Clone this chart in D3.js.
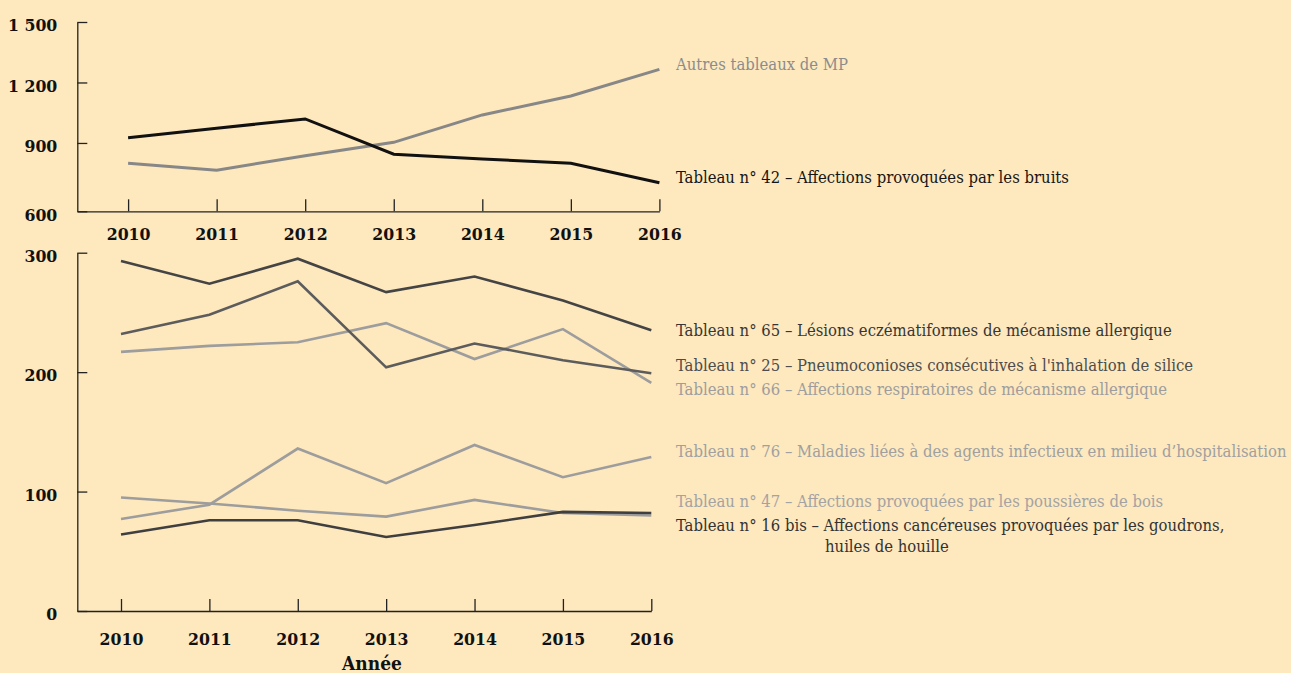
<!DOCTYPE html>
<html>
<head>
<meta charset="utf-8">
<script src="https://cdn.jsdelivr.net/npm/d3@7"></script>
<style>
  html, body { margin: 0; padding: 0; background: #fee8be; }
  svg { display: block; }
</style>
</head>
<body>
<svg id="chart" width="1291" height="673"></svg>
<script>
// ---------- DATA ----------
const years = [2010, 2011, 2012, 2013, 2014, 2015, 2016];

// Top panel
const autresMP   = [799, 765, 837, 903, 1039, 1133, 1265];
const tableau42  = [926, 973, 1019, 844, 821, 799, 703];
const topYTickValues = [561, 900, 1200, 1500];
const topYTickLabels = ["600", "900", "1 200", "1 500"];

// Bottom panel
const tableau65   = [293, 274, 295, 267, 280, 260, 235];
const tableau25   = [232, 248, 276, 204, 224, 210, 199];
const tableau66   = [217, 222, 225, 241, 211, 236, 191];
const tableau76   = [77, 89, 136, 107, 139, 112, 129];
const tableau47   = [95, 90, 84, 79, 93, 82, 80];
const tableau16   = [64, 76, 76, 62, 72, 83, 82];
const bottomYTickValues = [0, 100, 200, 300];
const bottomYTickLabels = ["0", "100", "200", "300"];

const topSeries = [
  { name: "Autres tableaux de MP", values: autresMP, color: "#878787", label: "#8c8c8c", lines: ["Autres tableaux de MP"], ly: 70 },
  { name: "Tableau 42", values: tableau42, color: "#111111", label: "#151515", lines: ["Tableau n° 42 – Affections provoquées par les bruits"], ly: 183 }
];
const bottomSeries = [
  { values: tableau47, color: "#9d9d9d", label: "#a3a3a3", lines: ["Tableau n° 47 – Affections provoquées par les poussières de bois"], ly: 507 },
  { values: tableau76, color: "#9d9d9d", label: "#a0a0a0", lines: ["Tableau n° 76 – Maladies liées à des agents infectieux en milieu d’hospitalisation"], ly: 457 },
  { values: tableau66, color: "#9d9d9d", label: "#9d9d9d", lines: ["Tableau n° 66 – Affections respiratoires de mécanisme allergique"], ly: 395 },
  { values: tableau16, color: "#3f3f3f", label: "#333333", lines: ["Tableau n° 16 bis – Affections cancéreuses provoquées par les goudrons,", "huiles de houille"], ly: 531 },
  { values: tableau25, color: "#5c5c5c", label: "#4d4d4d", lines: ["Tableau n° 25 – Pneumoconioses consécutives à l'inhalation de silice"], ly: 371 },
  { values: tableau65, color: "#444444", label: "#363636", lines: ["Tableau n° 65 – Lésions eczématiformes de mécanisme allergique"], ly: 336 }
];

// ---------- DRAW ----------
const svg = d3.select("#chart");
svg.append("rect").attr("width", 1291).attr("height", 673).attr("fill", "#fee8be");

const tickFont = "'DejaVu Serif Condensed', 'DejaVu Serif', serif";
const labelFont = "'DejaVu Serif Condensed', 'DejaVu Serif', serif";
const axisColor = "#222";

function panel(cfg) {
  const g = svg.append("g");
  const x = d3.scaleLinear().domain(cfg.xDomain).range(cfg.xRange);
  const y = d3.scaleLinear().domain(cfg.yDomain).range(cfg.yRange);

  // X axis
  const xa = g.append("g")
    .attr("transform", `translate(0,${cfg.yRange[0]})`)
    .call(d3.axisBottom(x).tickValues(years).tickFormat(d3.format("d")).tickSize(-12).tickSizeOuter(0));
  xa.selectAll("path, line").attr("stroke", axisColor).attr("stroke-width", 1.3);
  xa.selectAll("text")
    .attr("y", cfg.xLabelY - cfg.yRange[0]).attr("dy", 0)
    .attr("font-family", tickFont).attr("font-weight", "bold").attr("font-size", 17.5).attr("fill", "#111");

  // Y axis
  const ya = g.append("g")
    .attr("transform", `translate(${cfg.xRange[0]},0)`)
    .call(d3.axisLeft(y).tickValues(cfg.yTicks).tickFormat((d, i) => cfg.yLabels[i]).tickSize(-10).tickSizeOuter(0).tickPadding(20));
  ya.selectAll("path, line").attr("stroke", axisColor).attr("stroke-width", 1.3);
  ya.selectAll("text")
    .attr("dy", "0.5em")
    .attr("font-family", tickFont).attr("font-weight", "bold").attr("font-size", 17.5).attr("fill", "#111");

  const line = d3.line().x((d, i) => x(years[i])).y(d => y(d));
  cfg.series.forEach(s => {
    g.append("path").datum(s.values)
      .attr("d", line).attr("fill", "none")
      .attr("stroke", s.color).attr("stroke-width", cfg.strokeW)
      .attr("stroke-linejoin", "miter");
    const t = g.append("text")
      .attr("x", 676).attr("y", s.ly)
      .attr("font-family", labelFont).attr("font-size", 16.5).attr("fill", s.label);
    s.lines.forEach((ln, i) => {
      t.append("tspan").attr("x", i === 0 ? 676 : 825).attr("dy", i === 0 ? 0 : 21).text(ln);
    });
  });
  return { x, y };
}

panel({
  xDomain: [2010 - (128.1 - 77.3) / 88.55, 2016],
  xRange: [77.3, 659.4],
  yDomain: [561, 1500],
  yRange: [211.3, 22],
  yTicks: topYTickValues,
  yLabels: topYTickLabels,
  xLabelY: 240,
  series: topSeries,
  strokeW: 3
});

panel({
  xDomain: [2010 - (121 - 77.3) / 88.38, 2016],
  xRange: [77.3, 651.3],
  yDomain: [0, 300],
  yRange: [611, 252.7],
  yTicks: bottomYTickValues,
  yLabels: bottomYTickLabels,
  xLabelY: 645,
  series: bottomSeries,
  strokeW: 2.6
});

svg.append("text")
  .attr("x", 372).attr("y", 670).attr("text-anchor", "middle")
  .attr("font-family", tickFont).attr("font-weight", "bold").attr("font-size", 19).attr("fill", "#111")
  .text("Année");
</script>
</body>
</html>
